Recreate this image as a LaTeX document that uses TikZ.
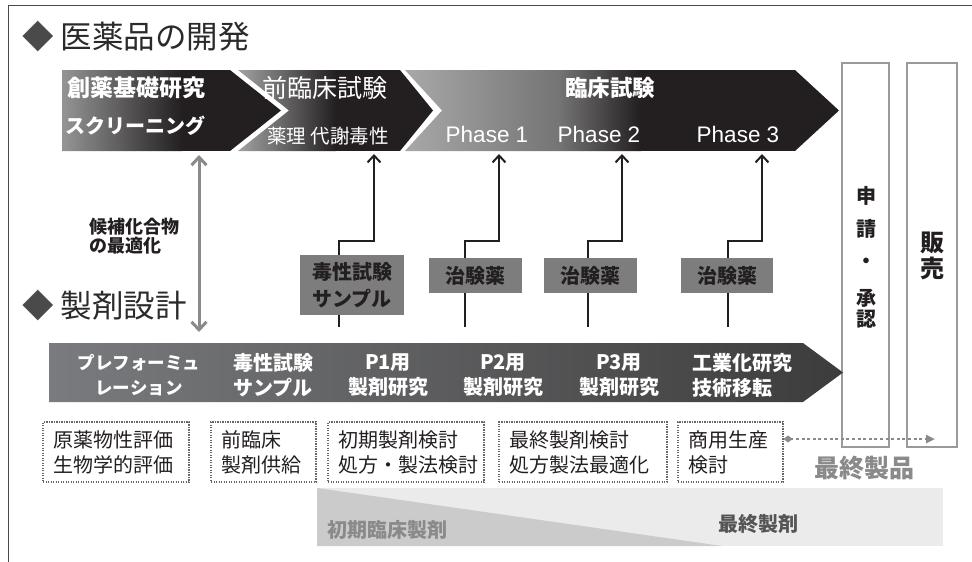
\documentclass[tikz,border=0pt]{standalone}
\usepackage{fontspec}
\setmainfont{Noto Sans CJK JP}
\newfontfamily\lat{Liberation Sans}
\usetikzlibrary{arrows.meta}
\definecolor{ink}{HTML}{231F20}
\definecolor{dia}{HTML}{4A4A4A}
\definecolor{ttl}{HTML}{2A2A2A}
\definecolor{chA}{HTML}{959595}
\definecolor{chB}{HTML}{A2A2A2}
\definecolor{chC}{HTML}{A8A8A8}
\definecolor{chCm}{HTML}{747474}
\definecolor{bandL}{HTML}{7A7B7E}
\definecolor{bandR}{HTML}{3C3C3C}
\definecolor{sampfill}{HTML}{7D7D7D}
\definecolor{garr}{HTML}{8A8A8A}
\definecolor{vline}{HTML}{9A9A9A}
\definecolor{dline}{HTML}{666666}
\definecolor{lightband}{HTML}{EBEBEB}
\definecolor{darkband}{HTML}{CBCBCB}
\definecolor{fpgray}{HTML}{8A8A8A}
\definecolor{fingray}{HTML}{555555}
\newcommand\fsz[2]{\fontsize{#1}{#2}\selectfont}
\begin{document}
\begin{tikzpicture}[x=1pt,y=-1pt,
  wt/.style={text=white, inner sep=0pt},
  sbox/.style={fill=sampfill, text=ink, inner sep=0pt, align=center, font=\bfseries\fsz{20}{27}},
  bandtxt/.style={text=white, inner sep=0pt, align=center, font=\bfseries\fsz{20}{25}},
  dbox/.style={draw=dline, line width=1.1pt, dash pattern=on 1.2pt off 1.3pt, inner xsep=10pt, inner ysep=0pt,
     minimum height=60pt, align=left, font=\fsz{20}{25}, text=ink},
  vbox/.style={draw=vline, line width=1.2pt, inner sep=0pt},
  blk/.style={draw=ink, line width=2pt},
  blkarr/.style={blk, -{Straight Barb[length=7pt,width=13pt,line width=2pt]}},
  garrow/.style={draw=garr, line width=3pt, {Straight Barb[length=8pt,width=15pt]}-{Straight Barb[length=8pt,width=15pt]}},
  dotarr/.style={draw=garr, line width=2.6pt, dash pattern=on 3pt off 2.6pt,
     {Diamond[length=9pt,width=7pt]}-{Triangle[length=9pt,width=8pt]}},
]
\useasboundingbox (0,0) rectangle (972,562);
% frame
\draw[color=dia, line width=1pt] (8,562) -- (8,5) -- (972,5);

% titles
\node[anchor=west, inner sep=0pt, text=ttl, font=\fsz{31.5}{36}] (title1) at (22,37) {{\color{dia}◆} 医薬品の開発};
\node[anchor=west, inner sep=0pt, text=ttl, font=\fsz{31.5}{36}] (title2) at (22,306) {{\color{dia}◆} 製剤設計};

% chevron 1
\begin{scope}
\clip (62,70) -- (230,70) -- (281,110.5) -- (230,151) -- (62,151) -- cycle;
\shade[left color=chA, right color=ink] (62,70) rectangle (182,151);
\fill[ink] (181.5,70) rectangle (290,151);
\end{scope}
% chevron 2
\begin{scope}
\clip (238,70) -- (400,70) -- (433,110.5) -- (400,151) -- (238,151) -- (289,110.5) -- cycle;
\shade[left color=chB, right color=ink] (238,70) rectangle (336,151);
\fill[ink] (335.5,70) rectangle (440,151);
\end{scope}
% chevron 3
\begin{scope}
\clip (405,70) -- (795,70) -- (839,110.5) -- (795,151) -- (405,151) -- (442,110.5) -- cycle;
\shade[left color=chC, right color=chCm] (405,70) rectangle (560,151);
\shade[left color=chCm, right color=ink] (559.5,70) rectangle (641,151);
\fill[ink] (640.5,70) rectangle (845,151);
\end{scope}

% chevron texts
\node[wt, font=\bfseries\fsz{23}{26}] (c1a) at (136,88) {創薬基礎研究};
\node[wt, font=\bfseries\fsz{20}{24}] (c1b) at (135,126) {スクリーニング};
\node[wt, font=\fsz{25}{30}] (c2a) at (325,88) {前臨床試験};
\node[wt, font=\fsz{19.5}{23}] (c2b) at (328,136) {薬理 代謝毒性};
\node[wt, font=\bfseries\fsz{22.5}{26}] (c3a) at (610,88) {臨床試験};
\node[wt, font=\lat\fsz{22.5}{26}] (ph1) at (487,134) {Phase 1};
\node[wt, font=\lat\fsz{22.5}{26}] (ph2) at (599,134) {Phase 2};
\node[wt, font=\lat\fsz{22.5}{26}] (ph3) at (738,134) {Phase 3};

% vertical boxes
\node[vbox, minimum width=47pt, minimum height=384pt] (shinsei) at (865.5,255) {};
\node[vbox, minimum width=50pt, minimum height=384pt] (hanbai) at (932,255) {};
\node[anchor=north, inner sep=0pt, align=center, text=ink, font=\bfseries\fsz{20}{21}] (shtxt) at (866,186)
  {申\\[12pt]請\\[11pt]・\\[16pt]承\\認};
\node[anchor=north, inner sep=0pt, align=center, text=ink, font=\bfseries\fsz{24}{26}] (hbtxt) at (932,232)
  {販\\売};

% gray double arrow and label
\coordinate (g1) at (199,155);
\coordinate (g2) at (199,332);
\draw[garrow] (g1) -- (g2);
\node[anchor=west, inner sep=0pt, align=left, text=ink, font=\bfseries\fsz{18}{19}] (cand) at (89,236) {候補化合物\\の最適化};

% sample boxes
\node[sbox, minimum width=104pt, minimum height=60pt] (tox) at (352,285) {毒性試験\\サンプル};
\node[sbox, minimum width=93pt, minimum height=35pt] (cj1) at (475.5,275.5) {治験薬};
\node[sbox, minimum width=93pt, minimum height=35pt] (cj2) at (590.5,275.5) {治験薬};
\node[sbox, minimum width=92pt, minimum height=35pt] (cj3) at (727,275.5) {治験薬};

% connectors
\coordinate (hl) at (0,241);
\coordinate (tip1) at (374,154);
\coordinate (tip2) at (499,154);
\coordinate (tip3) at (622,154);
\coordinate (tip4) at (762,154);
\coordinate (b1) at (339,327);
\coordinate (b2) at (465,327);
\coordinate (b3) at (588,327);
\coordinate (b4) at (728,327);
\draw[blk] (b1) -- (b1 |- tox.south);
\draw[blk] (b2) -- (b2 |- cj1.south);
\draw[blk] (b3) -- (b3 |- cj2.south);
\draw[blk] (b4) -- (b4 |- cj3.south);
\draw[blkarr] (b1 |- tox.north) -- (b1 |- hl) -| (tip1);
\draw[blkarr] (b2 |- cj1.north) -- (b2 |- hl) -| (tip2);
\draw[blkarr] (b3 |- cj2.north) -- (b3 |- hl) -| (tip3);
\draw[blkarr] (b4 |- cj3.north) -- (b4 |- hl) -| (tip4);

% formulation band
\shade[left color=bandL, right color=bandR] (49,343) -- (803,343) -- (843,372.5) -- (803,402) -- (49,402) -- cycle;
\node[bandtxt, font=\bfseries\fsz{17.5}{25}] (f1) at (139,375) {プレフォーミュ\\レーション};
\node[bandtxt] (f2) at (273,375) {毒性試験\\サンプル};
\node[bandtxt] (f3) at (388,375) {P1用\\製剤研究};
\node[bandtxt] (f4) at (503,375) {P2用\\製剤研究};
\node[bandtxt] (f5) at (619,375) {P3用\\製剤研究};
\node[bandtxt, align=left, anchor=west] (f6) at (692,375) {工業化研究\\技術移転};

% dotted boxes
\node[dbox, minimum width=146pt, text width=126pt] (d1) at (116,452) {原薬物性評価\\生物学的評価};
\node[dbox, minimum width=105pt, text width=85pt] (d2) at (263.5,452) {前臨床\\製剤供給};
\node[dbox, minimum width=156pt, text width=136pt] (d3) at (406,452) {初期製剤検討\\処方・製法検討};
\node[dbox, minimum width=168pt, text width=148pt] (d4) at (583,452) {最終製剤検討\\処方製法最適化};
\node[dbox, minimum width=105pt, text width=85pt] (d5) at (730.5,452) {商用生産\\検討};

% final product arrow
\coordinate (fp) at (935,439);
\draw[dotarr] (d5.east |- fp) -- (fp);
\node[inner sep=0pt, text=fpgray, font=\bfseries\fsz{25}{28}] (fin) at (864,468) {最終製品};

% bottom formulation bands
\fill[lightband] (317,488) rectangle (943,546);
\fill[darkband] (317,488) -- (317,546) -- (722,546) -- cycle;
\node[inner sep=0pt, text=fpgray, font=\bfseries\fsz{20}{24}] (early) at (387,530) {初期臨床製剤};
\node[inner sep=0pt, text=fingray, font=\bfseries\fsz{20}{24}] (final) at (758,524) {最終製剤};
\end{tikzpicture}
\end{document}
